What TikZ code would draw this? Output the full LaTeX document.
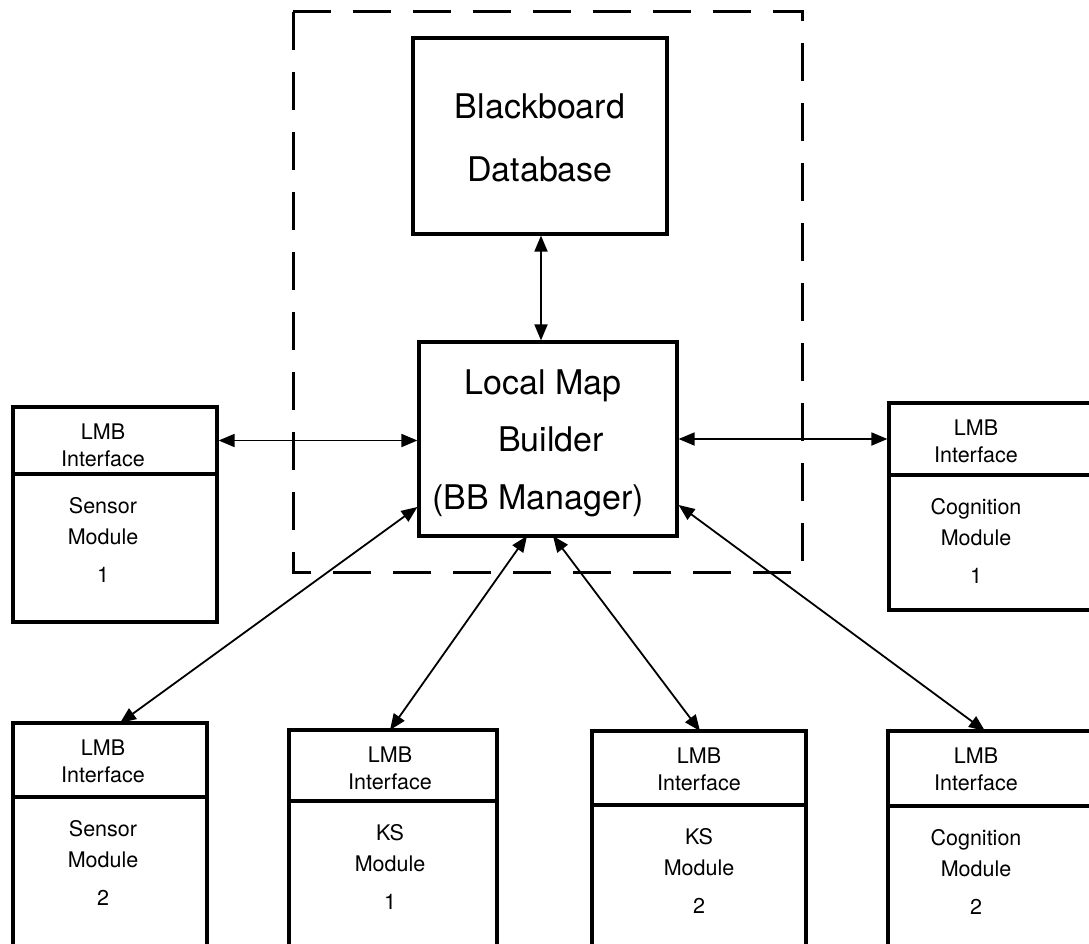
\documentclass[tikz,border=0pt]{standalone}
\usepackage{fontspec}
\setmainfont{TeX Gyre Heros}
\usetikzlibrary{arrows.meta,calc,fit}
\newcommand\modbox[9]{%
  \node[box,fit={(#2,#4) (#3,#5)}] (#1i) {};
  \node[box,fit={(#2,#5) (#3,#6)}] (#1m) {};
  \node[small,anchor=base] (#1a) at (#7,#4+32) {LMB};
  \node[small,anchor=base] (#1b) at (#7,#4+59) {Interface};
  \node[small,anchor=base] (#1c) at (#7,#5+39) {#8};
  \node[small,anchor=base] (#1d) at (#7,#5+70) {Module};
  \node[small,anchor=base] (#1e) at (#7,#5+108) {#9};
}
\begin{document}
\begin{tikzpicture}[x=1pt,y=-1pt,
  box/.style={draw,line width=3.2pt,inner sep=0pt},
  big/.style={font=\fontsize{34}{40}\selectfont},
  small/.style={font=\fontsize{21.5}{24}\selectfont,inner sep=0pt},
  conn/.style={line width=1.8pt,{Triangle[length=16pt,width=13pt]}-{Triangle[length=16pt,width=13pt]}},
  frame/.style={line width=3pt,dash pattern=on 38pt off 22pt}]
\useasboundingbox (0,0) rectangle (1089,944);
% dashed frame
\draw[frame] (293,12) -- (802,12) -- (802,572) -- (293,572) -- cycle;
% central boxes
\node[box,fit={(413,38) (667,234)}] (bb) {};
\node[big,anchor=base] (bbt1) at (540,119) {Blackboard};
\node[big,anchor=base] (bbt2) at (540,182) {Database};
\node[box,fit={(419,342) (677,536)}] (lmb) {};
\node[big,anchor=base] (lmbt1) at (543,394) {Local Map};
\node[big,anchor=base] (lmbt2) at (551,451) {Builder};
\node[big,anchor=base] (lmbt3) at (538,509) {(BB Manager)};
% modules
\modbox{sa}{13}{217}{407}{474}{622}{103}{Sensor}{1}
\modbox{ca}{889}{1095}{403}{475}{610}{976}{Cognition}{1}
\modbox{sb}{13}{207}{723}{797}{950}{103}{Sensor}{2}
\modbox{ka}{289}{497}{730}{801}{950}{390}{KS}{1}
\modbox{kb}{592}{806}{731}{805}{950}{699}{KS}{2}
\modbox{cb}{888}{1095}{731}{806}{950}{976}{Cognition}{2}
% connectors
\coordinate (p1) at (lmb.south west |- 0,507);
\coordinate (p2) at (527,536);
\coordinate (p3) at (553,536);
\coordinate (p4) at (lmb.south east |- 0,505);
\coordinate (q1) at (120,723);
\coordinate (q2) at (390,730);
\coordinate (q3) at (700,731);
\coordinate (q4) at (985,731);
\draw[conn] (bb.south -| 541,0) -- (lmb.north -| 541,0);
\draw[conn] (sai.east) -- (sai.east -| lmb.west);
\draw[conn] (cai.west -| lmb.east) -- (cai.west);
\draw[conn] (p1) -- (q1);
\draw[conn] (p2) -- (q2);
\draw[conn] (p3) -- (q3);
\draw[conn] (p4) -- (q4);
\end{tikzpicture}
\end{document}
